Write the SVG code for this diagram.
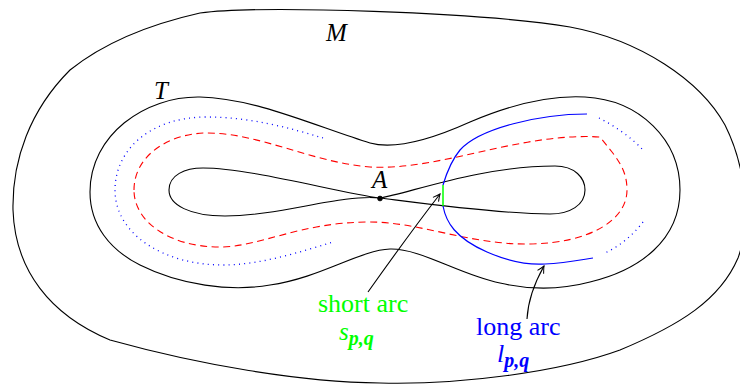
<svg xmlns="http://www.w3.org/2000/svg" width="740" height="384" viewBox="0 0 740 384">
<style>
.k{fill:none;stroke:#000;stroke-width:1.1}
.rd{fill:none;stroke:#f00;stroke-width:1.1;stroke-dasharray:7,4.5}
.bd{fill:none;stroke:#00f;stroke-width:1.3;stroke-dasharray:1,4.2}
.bs{fill:none;stroke:#00f;stroke-width:1.2}
.lbl{font-family:"Liberation Serif","Times New Roman",serif;font-style:italic;font-size:25px;fill:#000}
.gt{font-family:"Liberation Serif","Times New Roman",serif;font-size:26px;fill:#00ff00}
.bt{font-family:"Liberation Serif","Times New Roman",serif;font-size:26px;fill:#0000ff}
.it{font-style:italic}
.sub{font-style:italic;font-weight:bold;font-size:20px}
</style>
<defs>
<marker id="ah" markerWidth="12" markerHeight="10" refX="0" refY="0" viewBox="-8 -5 10 10" orient="auto" markerUnits="userSpaceOnUse">
<path d="M -7,-3.5 Q -2.5,-1 0,0 Q -2.5,1 -7,3.5" fill="none" stroke="#000" stroke-width="1"/>
</marker>
</defs>
<g id="M-region">
<path class="k" d="M 200,13 C 260,5 480,12 570,27 C 640,40 700,80 725,125 C 745,165 752,220 738,258 C 720,300 680,325 620,350 C 560,372 460,385 380,383 C 300,382 200,365 110,340 C 50,315 15,270 13,210 C 12,160 30,110 70,70 C 110,38 160,22 200,13 Z"/>
<text class="lbl" x="326" y="41">M</text>
</g>
<g id="T-region">
<path class="k" d="M 90,192 C 90,135 145,96 200,97 C 255,98 320,128 370,143 C 395,150 430,140 470,122 C 510,105 550,95 585,97 C 640,100 680,140 680,190 C 680,240 640,270 590,282 C 560,290 530,290 500,283 C 460,275 420,248 390,249 C 360,250 320,278 270,285 C 230,292 180,285 140,265 C 110,250 90,225 90,192 Z"/>
<text class="lbl" x="154" y="99">T</text>
</g>
<g id="inner-curve">
<path class="k" d="M 380,198 C 410,193 480,166 555,166 C 575,166 585,178 585,190 C 585,205 570,214 550,214 C 500,214 420,203 380,198 C 340,194 280,216 225,216 C 190,216 169,205 169,190 C 169,175 185,168 203,168 C 250,168 340,193 380,198 Z"/>
<circle cx="380" cy="198.5" r="2.4" fill="#000" stroke="#000" stroke-width="0.8"/>
<text class="lbl" x="372" y="188">A</text>
</g>
<g id="red-curve">
<path class="rd" d="M 134,190 C 134,155 170,133 207,133 C 260,133 310,162 370,167 C 440,171 520,132 600,137 L 612,152 C 622,165 627,175 627,190 C 627,220 590,243 530,244 C 470,245 420,222 370,222 C 300,222 260,247 220,247 C 170,247 134,222 134,190 Z"/>
</g>
<g id="blue-dotted">
<path class="bd" d="M 323,138 C 290,128 250,117 207,117 C 150,117 115,150 115,190 C 115,235 165,265 223,265 C 260,265 300,252 333,242"/>
<path class="bd" d="M 599,118 C 615,126 632,138 643,150"/>
<path class="bd" d="M 643,222 C 633,235 620,246 605,253"/>
</g>
<g id="long-arc">
<path class="bs" d="M 587,114 C 540,114 480,128 460,150 C 450,162 446,175 443,185"/>
<path class="bs" d="M 443,206 C 446,222 455,238 487,252 C 510,262 530,265 545,264 C 565,263 580,260 593,258"/>
<text class="bt" x="476" y="335">long arc</text>
<text class="bt" x="497" y="362"><tspan class="it">l</tspan><tspan class="sub" dy="5">p,q</tspan></text>
</g>
<g id="short-arc">
<line x1="443" y1="185" x2="443" y2="206" stroke="#00ff00" stroke-width="1.5"/>
<text class="gt" x="318" y="311.5">short arc</text>
<text class="gt" x="339" y="340" style="font-size:25px"><tspan class="it">s</tspan><tspan class="sub" dy="5">p,q</tspan></text>
</g>
<g id="connectors">
<path class="k" d="M 368,292 C 385,268 420,220 440,194" marker-end="url(#ah)"/>
<path class="k" d="M 527,319 C 528,300 535,282 544,266" marker-end="url(#ah)"/>
</g>
</svg>
